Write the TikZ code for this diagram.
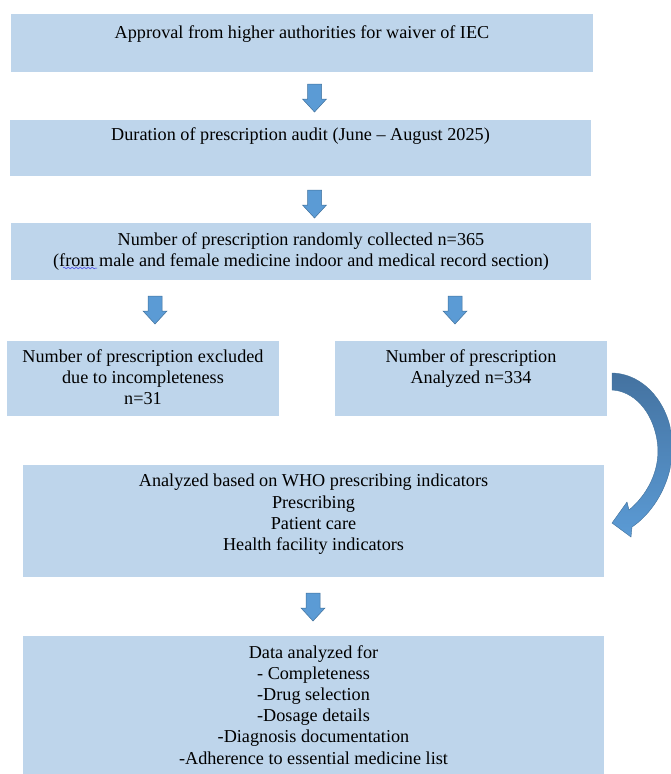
\documentclass[tikz,border=0pt]{standalone}
\usepackage{fontspec}
\setmainfont{Liberation Serif}
\usetikzlibrary{decorations.pathmorphing}
\definecolor{boxfill}{RGB}{190,213,235}
\definecolor{arrfill}{RGB}{91,155,213}
\definecolor{arrdraw}{RGB}{65,113,156}
\definecolor{arrdark}{RGB}{68,114,160}
\definecolor{squiggle}{RGB}{60,60,230}
\begin{document}
\begin{tikzpicture}[x=1pt,y=-1pt,
  box/.style={fill=boxfill, inner sep=0pt, outer sep=0pt},
  txt/.style={font=\fontsize{18.2}{21.2}\selectfont, align=center, anchor=north, inner sep=0pt},
  darrow/.pic={\fill[arrfill, draw=arrdraw, line width=0.5pt] (-7,0) -- (7,0) -- (7,15) -- (12,15) -- (0,28) -- (-12,15) -- (-7,15) -- cycle;}
]
\useasboundingbox (0,0) rectangle (670,774);

% boxes
\node[box, minimum width=582pt, minimum height=58pt]  (b1)  at (302,43)    {};
\node[box, minimum width=581pt, minimum height=56pt]  (b2)  at (300.5,148) {};
\node[box, minimum width=580pt, minimum height=57pt]  (b3)  at (301,251.5) {};
\node[box, minimum width=272pt, minimum height=75pt]  (b4l) at (143,378.5) {};
\node[box, minimum width=272pt, minimum height=75pt]  (b4r) at (471,378.5) {};
\node[box, minimum width=581pt, minimum height=112pt] (b5)  at (313.5,521) {};
\node[box, minimum width=581pt, minimum height=138pt] (b6)  at (313.5,705) {};

% texts
\node[txt] (t1) at ([yshift=-11pt]b1.north) {Approval from higher authorities for waiver of IEC};
\node[txt] (t2) at ([yshift=-7pt]b2.north) {Duration of prescription audit (June -- August 2025)};
\node[txt] (t3) at ([yshift=-9pt]b3.north) {Number of prescription randomly collected n=365\\(from male and female medicine indoor and medical record section)};
\node[txt] (t4l) at ([yshift=-8pt]b4l.north) {Number of prescription excluded\\due to incompleteness\\n=31};
\node[txt] (t4r) at ([yshift=-8pt]b4r.north) {Number of prescription\\Analyzed n=334};
\node[txt] (t5) at ([yshift=-9pt]b5.north) {Analyzed based on WHO prescribing indicators\\Prescribing\\Patient care\\Health facility indicators};
\node[txt] (t6) at ([yshift=-9pt]b6.north) {Data analyzed for\\- Completeness\\-Drug selection\\-Dosage details\\-Diagnosis documentation\\-Adherence to essential medicine list};

% block arrows
\pic at (314.5,84) {darrow};
\pic at (314.5,190) {darrow};
\pic at (155,296) {darrow};
\pic at (455,296) {darrow};
\pic at (313,593) {darrow};

% curved arrow
\shade[top color=arrdark, bottom color=arrfill, draw=arrdraw, line width=0.4pt]
  (612,373) .. controls (650,374) and (677,415) .. (672,458)
  .. controls (668,490) and (650,515) .. (632,527)
  -- (631,537) -- (612,523) -- (627,502) -- (629,510)
  .. controls (646,496) and (662,470) .. (657,440)
  .. controls (652,410) and (633,391) .. (612,390) -- cycle;

% spell-check squiggle under "from"
\draw[squiggle, line width=0.5pt, decorate, decoration={snake, amplitude=0.8pt, segment length=4pt}] (63,268) -- (97,268);
\end{tikzpicture}
\end{document}
